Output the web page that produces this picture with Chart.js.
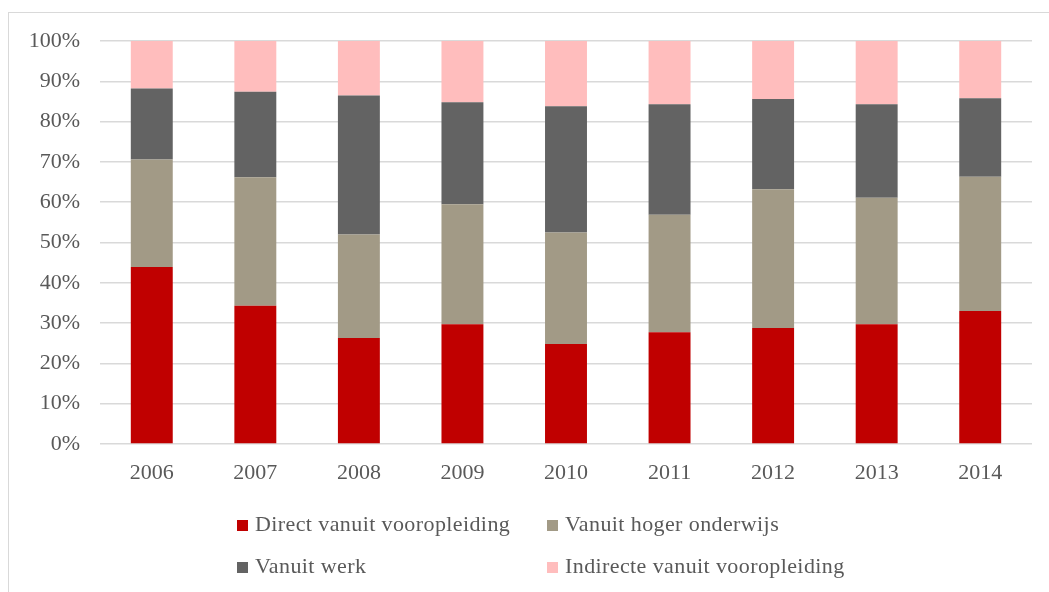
<!DOCTYPE html>
<html>
<head>
<meta charset="utf-8">
<script src="https://cdn.jsdelivr.net/npm/chart.js@4"></script>
<style>
    body { margin: 0; background: #fff; }
    #frame { position: absolute; left: 8px; top: 12px; width: 1045px; height: 590px; border: 1px solid #d9d9d9; }
    #wrap { position: absolute; left: 0; top: 0; width: 1049px; height: 592px; }
    #legend { position: absolute; left: 237px; top: 511px; display: grid; grid-template-columns: 310px auto; row-gap: 16px;
        font-family: "Liberation Serif", serif; font-size: 22px; letter-spacing: 0.4px; color: #595959; line-height: 26px; white-space: nowrap; }
    #legend span.box { display: inline-block; width: 11px; height: 11px; margin-right: 7px; vertical-align: 0px; }
</style>
</head>
<body>
<div id="frame"></div>
<div id="wrap"><canvas id="chart" width="1049" height="592"></canvas></div>
<div id="legend"></div>
<script>
const years = ['2006', '2007', '2008', '2009', '2010', '2011', '2012', '2013', '2014'];
const directVooropleiding = [43.9, 34.3, 26.3, 29.7, 24.8, 27.7, 28.8, 29.7, 33.0];
const hogerOnderwijs = [26.7, 31.9, 25.7, 29.8, 27.7, 29.2, 34.4, 31.4, 33.3];
const vanuitWerk = [17.6, 21.2, 34.5, 25.3, 31.3, 27.4, 22.4, 23.2, 19.5];
const indirecteVooropleiding = [11.8, 12.6, 13.5, 15.2, 16.2, 15.7, 14.4, 15.7, 14.2];

const series = [
    { label: 'Direct vanuit vooropleiding', data: directVooropleiding, color: '#c00000' },
    { label: 'Vanuit hoger onderwijs', data: hogerOnderwijs, color: '#a29a86' },
    { label: 'Vanuit werk', data: vanuitWerk, color: '#636363' },
    { label: 'Indirecte vanuit vooropleiding', data: indirecteVooropleiding, color: '#ffbdbd' }
];

const font = { family: '"Liberation Serif", serif', size: 22 };

new Chart(document.getElementById('chart'), {
    type: 'bar',
    data: {
        labels: years,
        datasets: series.map(s => ({
            label: s.label,
            data: s.data,
            backgroundColor: s.color,
            borderWidth: 0,
            categoryPercentage: 1,
            barPercentage: 0.405
        }))
    },
    options: {
        responsive: false,
        animation: false,
        layout: { padding: { top: 41, right: 17, left: 0, bottom: 0 } },
        plugins: {
            legend: { display: false },
            tooltip: { enabled: false }
        },
        scales: {
            x: {
                stacked: true,
                grid: { display: false },
                border: { display: false },
                ticks: { color: '#595959', font: font, padding: 8 },
                afterFit: s => { s.height = 148; }
            },
            y: {
                stacked: true,
                min: 0,
                max: 100,
                grid: { color: '#d9d9d9', lineWidth: 1.5, drawTicks: false },
                border: { display: false },
                ticks: { stepSize: 10, color: '#595959', font: font, padding: 20, callback: v => v + '%' },
                afterFit: s => { s.width = 100; }
            }
        }
    }
});

const legend = document.getElementById('legend');
legend.innerHTML = series.map(s =>
    `<div><span class="box" style="background:${s.color}"></span>${s.label}</div>`
).join('');
</script>
</body>
</html>
